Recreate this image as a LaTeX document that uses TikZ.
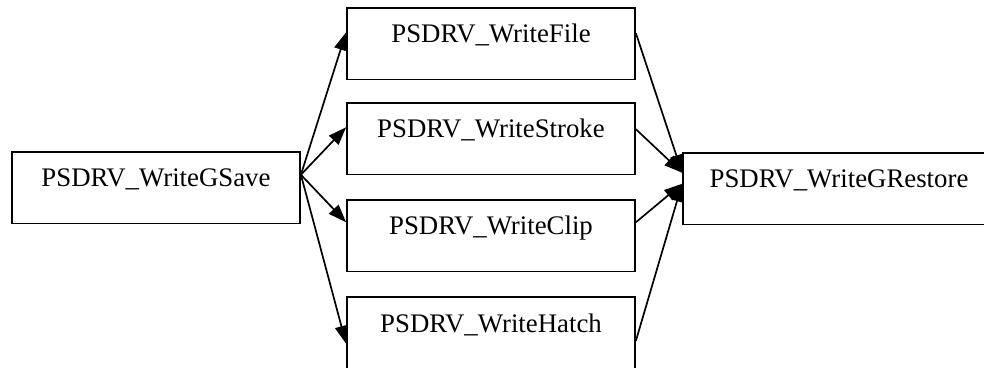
\documentclass[tikz,border=0pt]{standalone}
\usepackage{fontspec}
\setmainfont{Liberation Serif}
\usetikzlibrary{arrows.meta}
\begin{document}
\begin{tikzpicture}[x=1pt,y=1pt,
  box/.style={draw, line width=1.8pt, inner sep=0pt, align=center,
    font=\fontsize{26.8pt}{30pt}\selectfont,
    text height=35pt, text depth=36.5pt},
  wbox/.style={box, text width=288pt},
  edge/.style={line width=1.7pt, -{Triangle[length=18pt,width=13pt]}}]
\useasboundingbox (0,0) rectangle (984,367);
\clip (0,0) rectangle (984,367);
\node[wbox, anchor=base] (gsave) at (156,180) {PSDRV\_WriteGSave};
\node[wbox, anchor=base] (file) at (491,324) {PSDRV\_WriteFile};
\node[wbox, anchor=base] (stroke) at (491,229) {PSDRV\_WriteStroke};
\node[wbox, anchor=base] (clip) at (491,132) {PSDRV\_WriteClip};
\node[wbox, anchor=base] (hatch) at (491,35) {PSDRV\_WriteHatch};
\node[box, text width=312pt, anchor=base] (grestore) at (839,179) {PSDRV\_WriteGRestore};
\coordinate (s0) at ([yshift=13pt]gsave.east);
\draw[edge] (s0) -- ([yshift=11.5pt]file.west);
\draw[edge] (s0) -- ([yshift=11.5pt]stroke.west);
\draw[edge] (s0) -- ([yshift=13.5pt]clip.west);
\draw[edge] (s0) -- ([yshift=-11pt]hatch.west);
\draw[edge] ([yshift=10.5pt]file.east) -- ([yshift=16pt]grestore.west);
\draw[edge] ([yshift=9.5pt]stroke.east) -- ([yshift=16pt]grestore.west);
\draw[edge] ([yshift=13.5pt]clip.east) -- ([yshift=5pt]grestore.west);
\draw[edge] ([yshift=-8pt]hatch.east) -- ([yshift=5pt]grestore.west);
\end{tikzpicture}
\end{document}
